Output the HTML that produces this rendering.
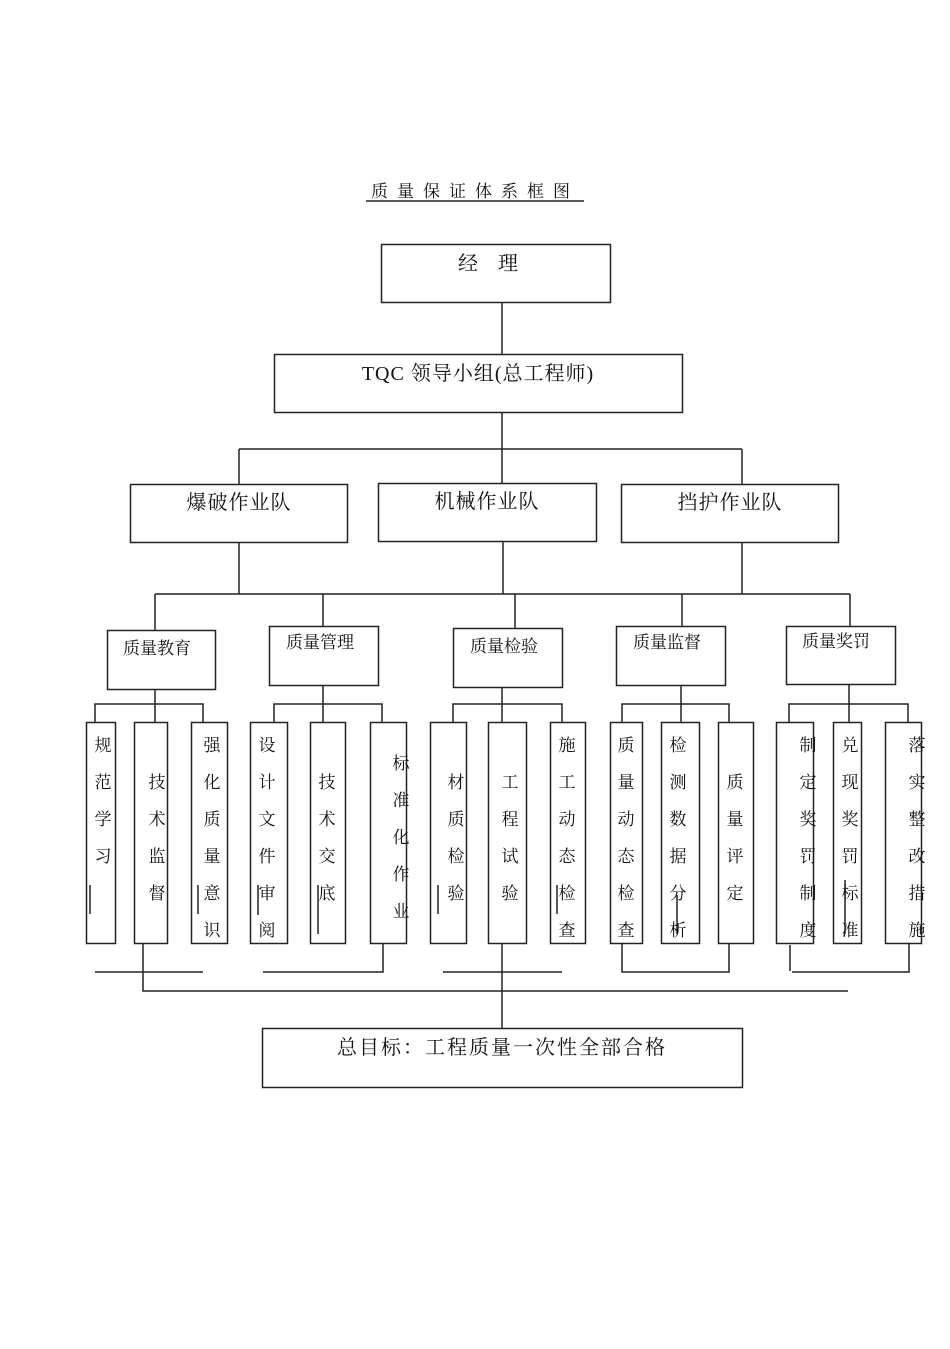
<!DOCTYPE html>
<html><head><meta charset="utf-8"><style>
body{margin:0;background:#fff}
svg text{font-family:"Liberation Serif","Noto Serif CJK SC",serif;fill:#111}
</style></head><body>
<svg width="950" height="1344" xmlns="http://www.w3.org/2000/svg">
<rect width="950" height="1344" fill="#fff"/>
<g fill="none" stroke="#222" stroke-width="1.5">
<!-- title underline -->
<line x1="366" y1="201" x2="584" y2="201"/>
<rect x="381.5" y="244.5" width="229" height="58"/>
<line x1="502" y1="302" x2="502" y2="354"/>
<rect x="274.5" y="354.5" width="408" height="58"/>
<line x1="502" y1="412" x2="502" y2="483"/>
<line x1="239" y1="449" x2="742" y2="449"/>
<line x1="239" y1="449" x2="239" y2="484"/>
<line x1="742" y1="449" x2="742" y2="484"/>
<rect x="130.5" y="484.5" width="217" height="58"/>
<rect x="378.5" y="483.5" width="218" height="58"/>
<rect x="621.5" y="484.5" width="217" height="58"/>
<line x1="239" y1="542" x2="239" y2="594"/>
<line x1="503" y1="541" x2="503" y2="594"/>
<line x1="742" y1="542" x2="742" y2="594"/>
<line x1="155" y1="594" x2="850" y2="594"/>
<line x1="155" y1="594" x2="155" y2="630"/>
<line x1="323" y1="594" x2="323" y2="626"/>
<line x1="515" y1="594" x2="515" y2="628"/>
<line x1="682" y1="594" x2="682" y2="626"/>
<line x1="850" y1="594" x2="850" y2="626"/>
<rect x="107.5" y="630.5" width="108" height="59"/>
<rect x="269.5" y="626.5" width="109" height="59"/>
<rect x="453.5" y="628.5" width="109" height="59"/>
<rect x="616.5" y="626.5" width="109" height="59"/>
<rect x="786.5" y="626.5" width="109" height="58"/>
<!-- group down lines & brackets -->
<line x1="155" y1="689" x2="155" y2="722"/>
<polyline points="95,722 95,704 203,704 203,722"/>
<line x1="323" y1="685" x2="323" y2="722"/>
<polyline points="274,722 274,704 382,704 382,722"/>
<line x1="502" y1="687" x2="502" y2="722"/>
<polyline points="453,722 453,704 562,704 562,722"/>
<line x1="681" y1="685" x2="681" y2="722"/>
<polyline points="622,722 622,704 729,704 729,722"/>
<line x1="849" y1="684" x2="849" y2="722"/>
<polyline points="789,722 789,704 908,704 908,722"/>
<!-- small boxes -->
<rect x="86.5" y="722.5" width="29" height="221"/>
<rect x="134.5" y="722.5" width="33" height="221"/>
<rect x="191.5" y="722.5" width="36" height="221"/>
<rect x="250.5" y="722.5" width="37" height="221"/>
<rect x="310.5" y="722.5" width="35" height="221"/>
<rect x="370.5" y="722.5" width="36" height="221"/>
<rect x="430.5" y="722.5" width="36" height="221"/>
<rect x="488.5" y="722.5" width="38" height="221"/>
<rect x="550.5" y="722.5" width="35" height="221"/>
<rect x="610.5" y="722.5" width="32" height="221"/>
<rect x="661.5" y="722.5" width="38" height="221"/>
<rect x="718.5" y="722.5" width="35" height="221"/>
<rect x="776.5" y="722.5" width="37" height="221"/>
<rect x="833.5" y="722.5" width="28" height="221"/>
<rect x="885.5" y="722.5" width="36" height="221"/>
<!-- small marks -->
<line x1="90" y1="885" x2="90" y2="914"/>
<line x1="198" y1="885" x2="198" y2="914"/>
<line x1="258" y1="885" x2="258" y2="915"/>
<line x1="318" y1="885" x2="318" y2="934"/>
<line x1="438" y1="885" x2="438" y2="914"/>
<line x1="557" y1="885" x2="557" y2="914"/>
<line x1="677" y1="895" x2="677" y2="934"/>
<line x1="845" y1="880" x2="845" y2="934"/>
<!-- bottom lines -->
<line x1="95" y1="972" x2="203" y2="972"/>
<polyline points="263,972 383,972 383,943"/>
<line x1="443" y1="972" x2="562" y2="972"/>
<polyline points="622,943 622,972 729,972 729,943"/>
<line x1="790" y1="945" x2="790" y2="971"/>
<polyline points="792,972 909,972 909,943"/>
<polyline points="143,943 143,991 848,991"/>
<line x1="502" y1="943" x2="502" y2="1028"/>
<rect x="262.5" y="1028.5" width="480" height="59"/>
</g>
<text x="475" y="197" font-size="17" text-anchor="middle" letter-spacing="9">质量保证体系框图</text>
<text x="498" y="270" font-size="20" text-anchor="middle" letter-spacing="20">经理</text>
<text x="478" y="380" font-size="20" text-anchor="middle" letter-spacing="1">TQC 领导小组(总工程师)</text>
<text x="239" y="509" font-size="20" text-anchor="middle" letter-spacing="1">爆破作业队</text>
<text x="487" y="508" font-size="20" text-anchor="middle" letter-spacing="1">机械作业队</text>
<text x="730" y="509" font-size="20" text-anchor="middle" letter-spacing="1">挡护作业队</text>
<text x="157" y="654" font-size="17" text-anchor="middle">质量教育</text>
<text x="320" y="648" font-size="17" text-anchor="middle">质量管理</text>
<text x="504" y="652" font-size="17" text-anchor="middle">质量检验</text>
<text x="667" y="648" font-size="17" text-anchor="middle">质量监督</text>
<text x="836" y="647" font-size="17" text-anchor="middle">质量奖罚</text>
<text x="502" y="1054" font-size="20" text-anchor="middle" letter-spacing="2">总目标：工程质量一次性全部合格</text>
<g font-size="17" text-anchor="middle">
<text x="103" y="751">规</text><text x="103" y="788">范</text><text x="103" y="825">学</text><text x="103" y="862">习</text>
<text x="157" y="788">技</text><text x="157" y="825">术</text><text x="157" y="862">监</text><text x="157" y="899">督</text>
<text x="212" y="751">强</text><text x="212" y="788">化</text><text x="212" y="825">质</text><text x="212" y="862">量</text><text x="212" y="899">意</text><text x="212" y="936">识</text>
<text x="267" y="751">设</text><text x="267" y="788">计</text><text x="267" y="825">文</text><text x="267" y="862">件</text><text x="267" y="899">审</text><text x="267" y="936">阅</text>
<text x="327" y="788">技</text><text x="327" y="825">术</text><text x="327" y="862">交</text><text x="327" y="899">底</text>
<text x="401" y="769">标</text><text x="401" y="806">准</text><text x="401" y="843">化</text><text x="401" y="880">作</text><text x="401" y="917">业</text>
<text x="456" y="788">材</text><text x="456" y="825">质</text><text x="456" y="862">检</text><text x="456" y="899">验</text>
<text x="510" y="788">工</text><text x="510" y="825">程</text><text x="510" y="862">试</text><text x="510" y="899">验</text>
<text x="567" y="751">施</text><text x="567" y="788">工</text><text x="567" y="825">动</text><text x="567" y="862">态</text><text x="567" y="899">检</text><text x="567" y="936">查</text>
<text x="626" y="751">质</text><text x="626" y="788">量</text><text x="626" y="825">动</text><text x="626" y="862">态</text><text x="626" y="899">检</text><text x="626" y="936">查</text>
<text x="678" y="751">检</text><text x="678" y="788">测</text><text x="678" y="825">数</text><text x="678" y="862">据</text><text x="678" y="899">分</text><text x="678" y="936">析</text>
<text x="735" y="788">质</text><text x="735" y="825">量</text><text x="735" y="862">评</text><text x="735" y="899">定</text>
<text x="808" y="751">制</text><text x="808" y="788">定</text><text x="808" y="825">奖</text><text x="808" y="862">罚</text><text x="808" y="899">制</text><text x="808" y="936">度</text>
<text x="850" y="751">兑</text><text x="850" y="788">现</text><text x="850" y="825">奖</text><text x="850" y="862">罚</text><text x="850" y="899">标</text><text x="850" y="936">准</text>
<text x="917" y="751">落</text><text x="917" y="788">实</text><text x="917" y="825">整</text><text x="917" y="862">改</text><text x="917" y="899">措</text><text x="917" y="936">施</text>
</g>
</svg>
</body></html>
